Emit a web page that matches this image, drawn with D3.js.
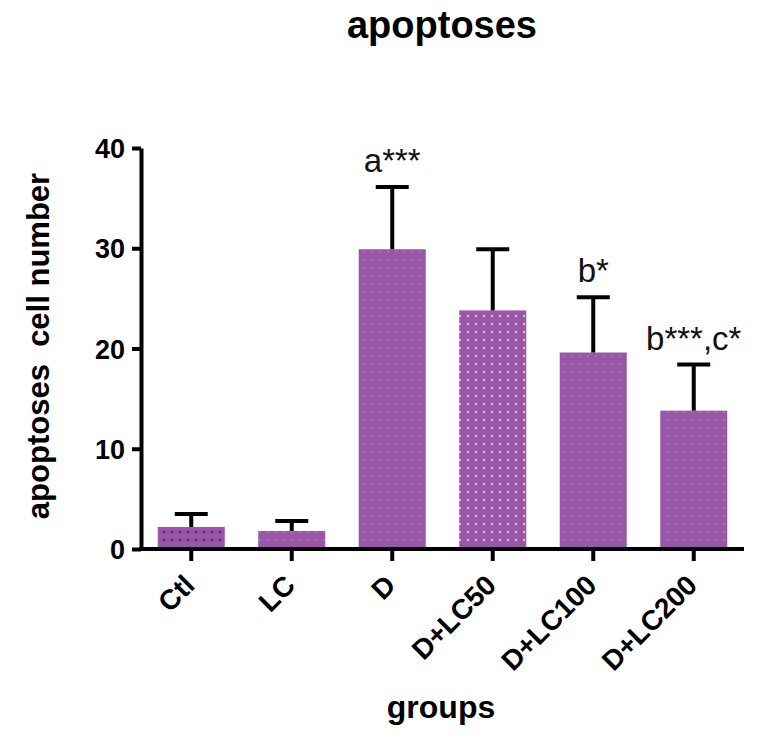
<!DOCTYPE html>
<html>
<head>
<meta charset="utf-8">
<script src="https://cdn.jsdelivr.net/npm/d3@7/dist/d3.min.js"></script>
<style>
  body { margin: 0; background: #fff; }
  svg { display: block; }
  text { font-family: "Liberation Sans", Arial, Helvetica, sans-serif; }
</style>
</head>
<body>
<svg id="chart" width="761" height="740"></svg>
<script>
const categories = ["Ctl", "LC", "D", "D+LC50", "D+LC100", "D+LC200"];
const means = [2.2, 1.8, 29.9, 23.8, 19.6, 13.8];
const errors = [1.3, 1.0, 6.2, 6.1, 5.5, 4.6];
const annotations = ["", "", "a***", "", "b*", "b***,c*"];
const yTicks = [0, 10, 20, 30, 40];

const patternOf = { "Ctl": "darkdots", "LC": "faintdots", "D": "faintdots",
  "D+LC50": "lightdots", "D+LC100": "faintdots", "D+LC200": "faintdots" };

const svg = d3.select("#chart");
const fill = "#9b57a7";

const defs = svg.append("defs");
function dots(id, color, r, op) {
  const p = defs.append("pattern").attr("id", id).attr("patternUnits", "userSpaceOnUse")
    .attr("width", 8).attr("height", 8);
  p.append("rect").attr("width", 8).attr("height", 8).attr("fill", fill);
  p.append("circle").attr("cx", 4).attr("cy", 4).attr("r", r).attr("fill", color).attr("opacity", op);
}
dots("darkdots", "#5a1a70", 1.3, 0.9);
dots("lightdots", "#e2c8e6", 1.2, 0.9);
dots("faintdots", "#b887c0", 1.1, 0.6);

const x = d3.scaleBand().domain(categories).range([141, 744]).paddingInner(0.333).paddingOuter(0.1665);
const y = d3.scaleLinear().domain([0, 40]).range([549, 148]);

const data = categories.map((c, i) => ({ c, m: means[i], e: errors[i], a: annotations[i] }));

// bars
svg.append("g").selectAll("rect").data(data).join("rect")
  .attr("x", d => x(d.c))
  .attr("y", d => y(d.m))
  .attr("width", x.bandwidth())
  .attr("height", d => y(0) - y(d.m))
  .attr("fill", d => "url(#" + patternOf[d.c] + ")");

// error bars
const eb = svg.append("g").attr("stroke", "#000").attr("stroke-width", 4);
const cap = 33;
data.forEach(d => {
  const cx = x(d.c) + x.bandwidth() / 2;
  eb.append("line").attr("x1", cx).attr("x2", cx).attr("y1", y(d.m)).attr("y2", y(d.m + d.e));
  eb.append("line").attr("x1", cx - cap / 2).attr("x2", cx + cap / 2).attr("y1", y(d.m + d.e)).attr("y2", y(d.m + d.e));
});

// annotations
svg.append("g").selectAll("text").data(data.filter(d => d.a)).join("text")
  .attr("x", d => x(d.c) + x.bandwidth() / 2)
  .attr("y", d => y(d.m + d.e) - 15)
  .attr("text-anchor", "middle")
  .attr("font-size", 33)
  .attr("fill", "#111")
  .text(d => d.a);

// y axis
const yAxis = svg.append("g").attr("transform", "translate(141,0)")
  .call(d3.axisLeft(y).tickValues(yTicks).tickSize(9).tickSizeOuter(0).tickPadding(7));
yAxis.select(".domain").attr("stroke", "#000").attr("stroke-width", 4);
yAxis.selectAll(".tick line").attr("stroke", "#000").attr("stroke-width", 4);
yAxis.selectAll(".tick text").attr("font-size", 27).attr("font-weight", "bold").attr("fill", "#000")
  .attr("font-family", "'Liberation Sans', Arial, sans-serif").attr("dy", "0.36em");

// x axis
const xAxis = svg.append("g").attr("transform", "translate(0,549)")
  .call(d3.axisBottom(x).tickSize(12).tickSizeOuter(0).tickPadding(0));
xAxis.select(".domain").attr("stroke", "#000").attr("stroke-width", 4).attr("d", "M139,0H744");
xAxis.selectAll(".tick line").attr("stroke", "#000").attr("stroke-width", 4);
xAxis.selectAll(".tick text")
  .attr("font-size", 28).attr("font-weight", "bold").attr("fill", "#000")
  .attr("font-family", "'Liberation Sans', Arial, sans-serif")
  .attr("text-anchor", "end")
  .attr("dy", 0)
  .attr("y", 0)
  .attr("transform", "translate(5,38) rotate(-45)");

// title
svg.append("text").attr("x", 442).attr("y", 38).attr("text-anchor", "middle")
  .attr("font-size", 38).attr("font-weight", "bold").text("apoptoses");

// y label
svg.append("text").attr("transform", "translate(49,346) rotate(-90)").attr("text-anchor", "middle")
  .attr("font-size", 31).attr("font-weight", "bold").attr("xml:space", "preserve")
  .style("white-space", "pre").text("apoptoses  cell number");

// x label
svg.append("text").attr("x", 441).attr("y", 718).attr("text-anchor", "middle")
  .attr("font-size", 32).attr("font-weight", "bold").text("groups");
</script>
</body>
</html>
